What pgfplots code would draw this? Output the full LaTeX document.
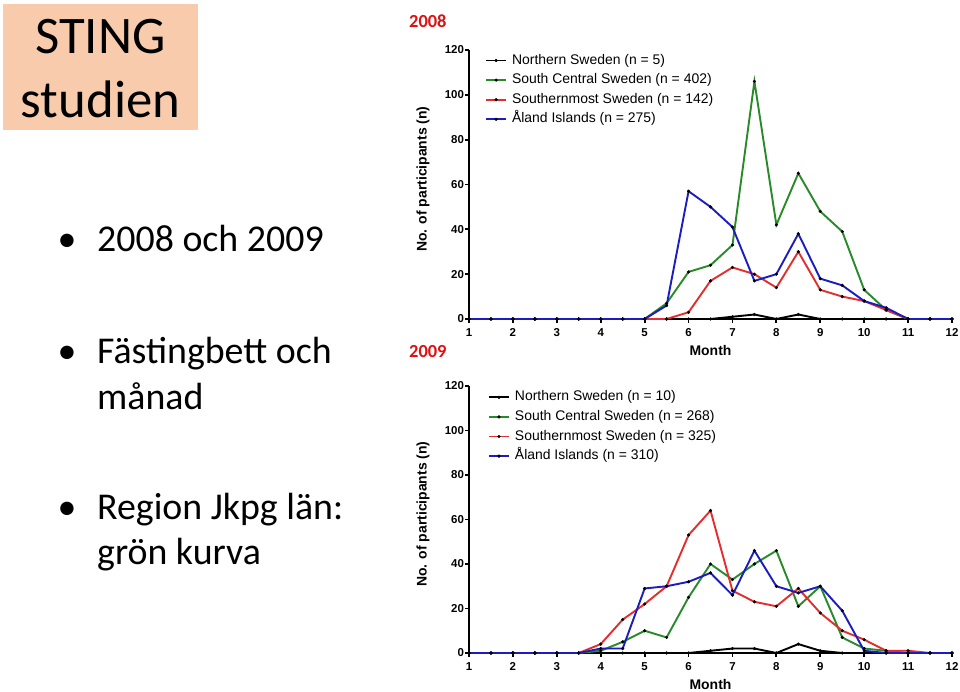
\documentclass[border=0pt]{standalone}
\usepackage{pgfplots}
\usepackage{pgfplotstable}
\pgfplotsset{compat=1.18}
\usepackage{fontspec}
\setmainfont{Carlito}
\newfontfamily\arial{Liberation Sans}
\definecolor{peach}{RGB}{248,203,173}
\definecolor{yearred}{RGB}{224,16,16}
\definecolor{cgreen}{RGB}{40,138,40}
\definecolor{cred}{RGB}{228,45,45}
\definecolor{cblue}{RGB}{28,28,192}

% x, Northern, South Central, Southernmost, Aland
\pgfplotstableread{
x n g r b
1 0 0 0 0
1.5 0 0 0 0
2 0 0 0 0
2.5 0 0 0 0
3 0 0 0 0
3.5 0 0 0 0
4 0 0 0 0
4.5 0 0 0 0
5 0 0 0 0
5.5 0 7 0 6
6 0 21 3 57
6.5 0 24 17 50
7 1 33 23 41
7.5 2 106 20 17
8 0 42 14 20
8.5 2 65 30 38
9 0 48 13 18
9.5 0 39 10 15
10 0 13 8 8
10.5 0 4 4 5
11 0 0 0 0
11.5 0 0 0 0
12 0 0 0 0
}\dataA

\pgfplotstableread{
x n g r b
1 0 0 0 0
1.5 0 0 0 0
2 0 0 0 0
2.5 0 0 0 0
3 0 0 0 0
3.5 0 0 0 0
4 0 1 4 2
4.5 0 5 15 2
5 0 10 22 29
5.5 0 7 30 30
6 0 25 53 32
6.5 1 40 64 36
7 2 33 28 26
7.5 2 40 23 46
8 0 46 21 30
8.5 4 21 29 27
9 1 30 18 30
9.5 0 7 10 19
10 0 2 6 1
10.5 0 1 1 0
11 0 0 1 0
11.5 0 0 0 0
12 0 0 0 0
}\dataB

\pgfplotsset{
  stingaxis/.style={
    scale only axis, width=483bp,
    anchor=south west,
    xmin=1, xmax=12, ymin=0, ymax=120,
    enlargelimits=false, clip=false,
    xtick={1,2,...,12}, ytick={0,20,...,120},
    axis x line*=bottom, axis y line*=left,
    tick align=outside, major tick length=4bp,
    axis line style={line width=1.8bp, black},
    tick style={line width=1.8bp, black},
    /pgf/number format/assume math mode=true,
    ticklabel style={font=\arial\bfseries\fontsize{11.5}{13}\selectfont},
    yticklabel style={xshift=2.5bp},
    xticklabel style={yshift=-2bp},
    xlabel={Month},
    ylabel={No. of participants (n)},
    label style={font=\arial\bfseries\fontsize{14}{16}\selectfont},
    xlabel style={yshift=-2bp},
    ylabel style={at={(axis description cs:-0.095,0.52)}, anchor=center},
    legend cell align=left,
    legend image code/.code={
      \draw[mark repeat=2, mark phase=2, ##1] plot coordinates {(0bp,0bp) (10bp,0bp) (20bp,0bp)};
    },
    legend style={draw=none, fill=none, anchor=north west, inner sep=0pt,
      font=\arial\fontsize{14}{16}\selectfont,
      nodes={inner xsep=2bp, inner ysep=3.6bp, text height=9.8bp, text depth=2.6bp},
      /tikz/every odd column/.append style={column sep=3bp}},
    every axis plot/.append style={line width=1.9bp, mark=*, mark size=1.4bp,
      mark options={fill=black, draw=black, solid, line width=0.4bp}},
  }
}

\begin{document}
\begin{tikzpicture}[x=1bp,y=1bp]
\useasboundingbox (0,0) rectangle (960,692);
\fill[white] (0,0) rectangle (960,692);

% left text panel
\fill[peach] (3,562) rectangle (198,688);
\node[anchor=base, font=\fontsize{53}{64}\selectfont, inner sep=0pt] at (100.5,638) {STING};
\node[anchor=base, font=\fontsize{53}{64}\selectfont, inner sep=0pt] at (100.5,574) {studien};

\begin{scope}[every node/.style={inner sep=0pt, font=\fontsize{38}{46}\selectfont}]
\node[anchor=base] at (67,440) {\textbullet};
\node[anchor=base west] at (97,440) {2008 och 2009};
\node[anchor=base] at (67,328) {\textbullet};
\node[anchor=base west] at (97,328) {Fästingbett och};
\node[anchor=base west] at (97,282) {månad};
\node[anchor=base] at (67,172) {\textbullet};
\node[anchor=base west] at (97,172) {Region Jkpg län:};
\node[anchor=base west] at (97,127) {grön kurva};
\end{scope}

% year labels
\node[anchor=west, inner sep=0pt, text=yearred, font=\bfseries\fontsize{18.5}{22}\selectfont] at (409,671) {2008};
\node[anchor=west, inner sep=0pt, text=yearred, font=\bfseries\fontsize{18.5}{22}\selectfont] at (409,340) {2009};

% 2008 chart
\begin{axis}[stingaxis, at={(469bp,373bp)}, height=269bp,
  legend style={at={(axis description cs:0.033,0.998)}}]
\addplot[black] table[x=x,y=n] {\dataA};
\addplot[cgreen] table[x=x,y=g] {\dataA};
\addplot[cred] table[x=x,y=r] {\dataA};
\addplot[cblue] table[x=x,y=b] {\dataA};
\legend{Northern Sweden (n = 5), South Central Sweden (n = 402), Southernmost Sweden (n = 142), Åland Islands (n = 275)}
\end{axis}

% 2009 chart
\begin{axis}[stingaxis, at={(469bp,39bp)}, height=267bp,
  legend style={at={(axis description cs:0.039,0.995)}}]
\addplot[black] table[x=x,y=n] {\dataB};
\addplot[cgreen] table[x=x,y=g] {\dataB};
\addplot[cred] table[x=x,y=r] {\dataB};
\addplot[cblue] table[x=x,y=b] {\dataB};
\legend{Northern Sweden (n = 10), South Central Sweden (n = 268), Southernmost Sweden (n = 325), Åland Islands (n = 310)}
\end{axis}
\end{tikzpicture}
\end{document}
